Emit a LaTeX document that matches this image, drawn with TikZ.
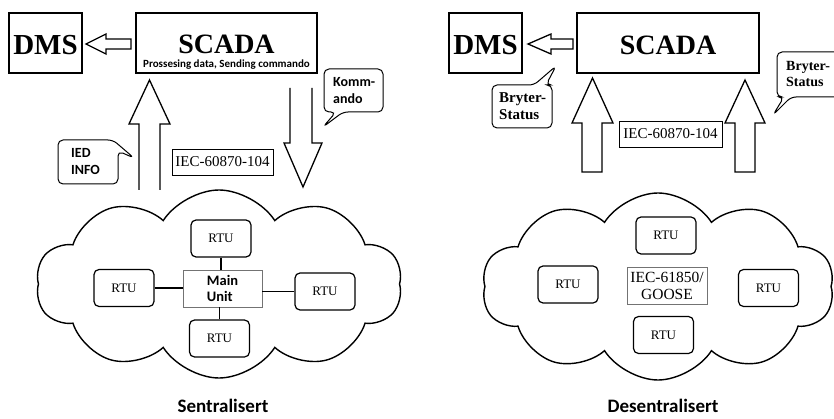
\documentclass[tikz,border=0pt]{standalone}
\usepackage{fontspec}
\setmainfont{Liberation Serif}
\newfontfamily\calib{Carlito}
\usetikzlibrary{shapes.symbols}
\begin{document}
\begin{tikzpicture}[x=1pt,y=-1pt,
  bigbox/.style={draw,line width=1.7pt,inner sep=0pt},
  rtubox/.style={draw,line width=1.2pt,rounded corners=5pt,minimum width=60pt,minimum height=37pt,inner sep=0pt,font=\fontsize{13}{15}\selectfont},
  thinbox/.style={draw=black!55,line width=0.8pt,inner sep=0pt},
  harrow/.style={draw,line width=1.3pt,fill=white,line join=miter},
  callout/.style={draw,line width=1pt,rounded corners=5pt,fill=white},
  cloudy/.style={cloud,draw,line width=1.4pt,cloud puffs=10,cloud puff arc=115,inner sep=0pt,aspect=1.95},
  conn/.style={line width=1.2pt},
  bigtxt/.style={font=\bfseries\fontsize{29}{30}\selectfont,inner sep=0pt},
  captxt/.style={font=\calib\bfseries\fontsize{19}{21}\selectfont,inner sep=0pt},
  calltxt/.style={font=\calib\bfseries\fontsize{14}{17}\selectfont,align=left,inner sep=0pt,anchor=west},
]
\useasboundingbox (0,0) rectangle (834,419);
\clip (0,0) rectangle (834,419);

% ================= LEFT: Sentralisert =================
\node[bigbox,minimum width=73pt,minimum height=60pt] (dmsL) at (45.5,43) {};
\node[bigtxt] (dmsLt) at (45.5,45) {DMS};
\node[bigbox,minimum width=181pt,minimum height=60pt] (scadaL) at (226.5,43) {};
\node[font=\bfseries\fontsize{28}{30}\selectfont,inner sep=0pt] (scadaLt) at (226.5,44) {SCADA};
\node[font=\calib\bfseries\fontsize{11}{12}\selectfont,inner sep=0pt] (scadaLs) at (226.5,64.5) {Prossesing data, Sending commando};

% arrow SCADA -> DMS
\draw[harrow] (131,39) -- (106,39) -- (106,34) -- (86,44) -- (106,54) -- (106,49) -- (131,49) -- cycle;
% up arrow (IED info)
\draw[harrow] (139,190) -- (139,124) -- (129,124) -- (149.5,80) -- (170,124) -- (160,124) -- (160,190);
% down arrow (Kommando)
\draw[harrow] (290,88) -- (290,143) -- (284,143) -- (303,187) -- (322,143) -- (312,143) -- (312,88);

% IED INFO callout
\draw[callout] (58,162) -- (58,140) -- (113,140) -- (134,158) -- (118,151) -- (118,184) -- (58,184) -- cycle;
\node[calltxt] (iedt) at (71,162) {IED\\INFO};
% Kommando callout
\draw[callout] (324,90) -- (324,69) -- (383,69) -- (383,112) -- (343,112) -- (323,127) -- (336,112) -- (324,112) -- cycle;
\node[calltxt] (kommt) at (333,91) {Komm-\\ando};

% protocol box
\node[draw,line width=0.9pt,minimum width=101pt,minimum height=26pt,inner sep=0pt,font=\fontsize{15}{17}\selectfont] (iecL) at (222.5,162) {IEC-60870-104};

% cloud
\node[cloudy,minimum width=366pt,minimum height=188pt] (cloudL) at (219,284) {};
\node[thinbox,minimum width=79pt,minimum height=37pt,font=\calib\bfseries\fontsize{14.5}{16}\selectfont,align=left] (mainU) at (222.5,288.5) {Main\\Unit};
\node[rtubox] (rtuLT) at (221,238.5) {RTU};
\node[rtubox] (rtuLL) at (124,288) {RTU};
\node[rtubox] (rtuLR) at (325,291.5) {RTU};
\node[rtubox] (rtuLB) at (219.5,338.5) {RTU};
\draw[conn] (rtuLT.south) -- (rtuLT.south |- mainU.north);
\draw[conn] (rtuLB.north) -- (rtuLB.north |- mainU.south);
\draw[conn] (rtuLL.east) -- (rtuLL.east -| mainU.west);
\draw[conn] (rtuLR.west) -- (rtuLR.west -| mainU.east);
\node[captxt] (capL) at (223,406) {Sentralisert};

% ================= RIGHT: Desentralisert =================
\node[bigbox,minimum width=73pt,minimum height=60pt] (dmsR) at (485.5,43) {};
\node[bigtxt] (dmsRt) at (485.5,45) {DMS};
\node[bigbox,minimum width=182pt,minimum height=60pt] (scadaR) at (668,43) {};
\node[font=\bfseries\fontsize{28}{30}\selectfont,inner sep=0pt] (scadaRt) at (668,45) {SCADA};

% arrow SCADA -> DMS
\draw[harrow] (573,39) -- (551,39) -- (551,34) -- (528,44) -- (551,54) -- (551,49) -- (573,49) -- cycle;
% two up arrows
\draw[harrow] (582,172) -- (582,123) -- (572,123) -- (592.5,78) -- (613,123) -- (602,123) -- (602,172) -- cycle;
\draw[harrow] (735,172) -- (735,123) -- (725,123) -- (745,80) -- (765,123) -- (755,123) -- (755,172) -- cycle;

% Bryter-Status callouts
\draw[callout] (492,106) -- (492,85) -- (534,85) -- (556,66) -- (546,85) -- (552,85) -- (552,128) -- (492,128) -- cycle;
\node[font=\bfseries\fontsize{15}{17}\selectfont,align=left,inner sep=0pt,anchor=west] (bryt1) at (499,106) {Bryter-\\Status};
\draw[callout] (777,75) -- (777,52) -- (850,52) -- (850,97) -- (791,97) -- (773,115) -- (784,97) -- (777,97) -- cycle;
\node[font=\bfseries\fontsize{14}{16}\selectfont,align=left,inner sep=0pt,anchor=west] (bryt2) at (786,74) {Bryter-\\Status};

% protocol box
\node[draw,line width=0.9pt,minimum width=103pt,minimum height=26pt,inner sep=0pt,font=\fontsize{15}{17}\selectfont] (iecR) at (670.5,134) {IEC-60870-104};

% cloud
\node[cloudy,minimum width=352pt,minimum height=187pt] (cloudR) at (658,286.5) {};
\node[thinbox,minimum width=80pt,minimum height=37pt,font=\fontsize{15.5}{17}\selectfont,align=center] (goose) at (667,285.5) {IEC-61850/\\GOOSE};
\node[rtubox] (rtuRT) at (666,235.5) {RTU};
\node[rtubox] (rtuRL) at (568,284.5) {RTU};
\node[rtubox] (rtuRR) at (768.5,288) {RTU};
\node[rtubox] (rtuRB) at (663.5,335) {RTU};
\node[captxt] (capR) at (663,406) {Desentralisert};
\end{tikzpicture}
\end{document}
